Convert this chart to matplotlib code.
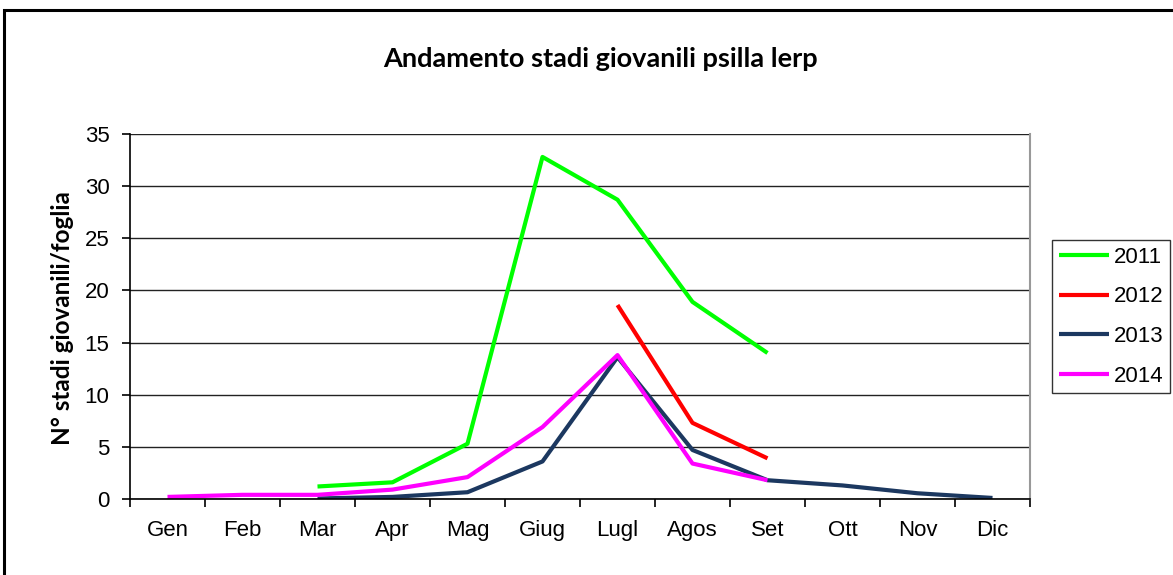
import numpy as np
import matplotlib
matplotlib.use("Agg")
import matplotlib.pyplot as plt
from matplotlib.patches import Rectangle

months = ["Gen", "Feb", "Mar", "Apr", "Mag", "Giug", "Lugl", "Agos", "Set", "Ott", "Nov", "Dic"]
nan = np.nan
s2011 = [nan, nan, 1.2, 1.6, 5.3, 32.8, 28.7, 18.9, 14.0, nan, nan, nan]
s2012 = [nan, nan, nan, nan, nan, nan, 18.6, 7.3, 3.9, nan, nan, nan]
s2013 = [nan, nan, 0.05, 0.2, 0.65, 3.6, 13.6, 4.7, 1.8, 1.3, 0.55, 0.1]
s2014 = [0.2, 0.4, 0.4, 0.9, 2.1, 6.9, 13.8, 3.4, 1.8, nan, nan, nan]
series = [("2011", s2011, "#00ff00"), ("2012", s2012, "#ff0000"),
          ("2013", s2013, "#1c3860"), ("2014", s2014, "#ff00ff")]
yticks = [0, 5, 10, 15, 20, 25, 30, 35]

W, H = 1173, 575
fig = plt.figure(figsize=(W / 100, H / 100), dpi=100)
fig.patches.append(Rectangle((4 / W, -0.1), 1.2, 1 - 10 / H + 0.1, transform=fig.transFigure,
                             fill=False, edgecolor="black", linewidth=2.2))

ax = fig.add_axes([130 / W, 1 - 499 / H, 900 / W, 365 / H])
x = np.arange(len(months))
for name, vals, col in series:
    ax.plot(x, vals, color=col, lw=3.0, label=name, solid_capstyle="butt")

ax.set_xlim(-0.5, 11.5)
ax.set_ylim(0, 35)
ax.set_yticks(yticks)
ax.yaxis.grid(True, color="#222222", lw=1.0)
ax.set_axisbelow(True)
ax.set_xticks(x)
ax.set_xticklabels(months, fontsize=16, family="Liberation Sans")
ax.set_xticks(np.arange(-0.5, 12, 1), minor=True)
ax.tick_params(axis="x", which="major", length=0, pad=15)
ax.tick_params(axis="x", which="minor", length=5.8, width=1.2, color="black", direction="out")
ax.tick_params(axis="y", length=5.8, width=1.2, direction="out", labelsize=16, pad=9)
for lab in ax.get_yticklabels():
    lab.set_family("Liberation Sans")
ax.spines["top"].set_visible(False)
ax.spines["right"].set_color("#999999")
ax.spines["right"].set_linewidth(1.5)
ax.spines["left"].set_linewidth(1.2)
ax.spines["bottom"].set_linewidth(1.2)

fig.text(62 / W, 1 - 318 / H, "N° stadi giovanili/foglia", rotation=90, ha="center", va="center",
         fontsize=17.5, fontweight="bold", family="Lato")
fig.text(600 / W, 1 - 67 / H, "Andamento stadi giovanili psilla lerp", ha="center", va="baseline",
         fontsize=19.5, fontweight="bold", family="Lato")

leg = fig.legend(loc="upper left", bbox_to_anchor=(1052 / W, 1 - 240 / H),
                 frameon=True, fancybox=False, edgecolor="black", borderpad=0.3,
                 labelspacing=0.84, handlelength=2.25, handletextpad=0.22, borderaxespad=0,
                 prop={"family": "Liberation Sans", "size": 16})
leg.get_frame().set_linewidth(1.0)

fig.savefig("out.png", dpi=100)
